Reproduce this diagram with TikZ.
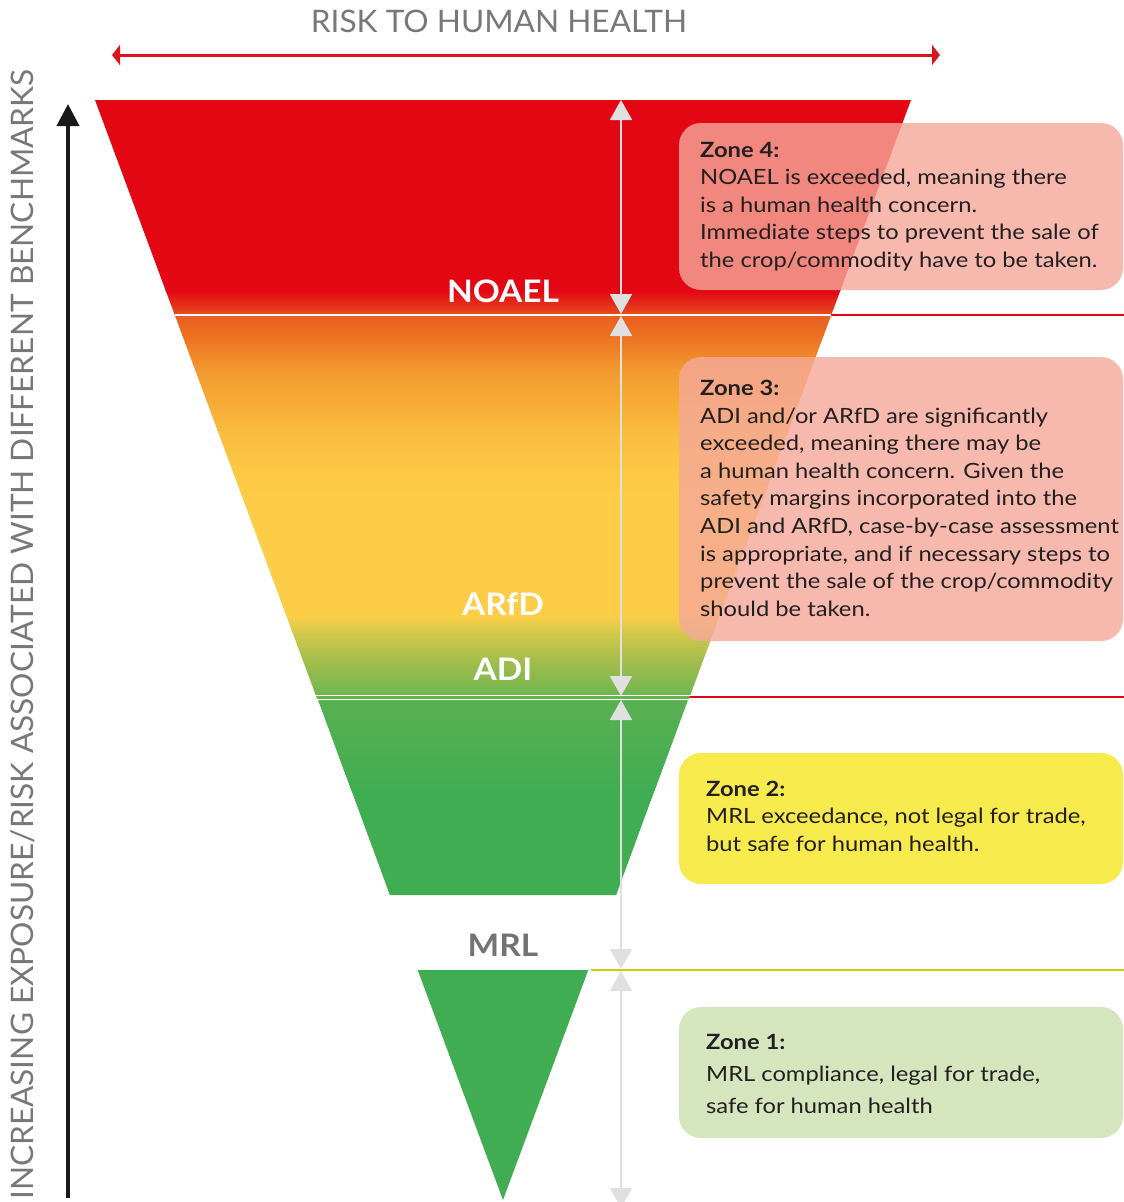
\documentclass[tikz,border=0pt]{standalone}
\usepackage{fontspec}
\setmainfont{Lato}
\newfontfamily\zonefont[FakeStretch=1.13]{Lato}
\newfontfamily\benchfont[FakeStretch=1.08]{Lato}
\newfontfamily\axisfont[FakeStretch=1.02]{Lato}
\usetikzlibrary{arrows.meta}
\definecolor{fred}{RGB}{227,6,19}
\definecolor{axisred}{RGB}{217,22,31}
\definecolor{gA}{RGB}{232,79,30}
\definecolor{gB}{RGB}{234,94,34}
\definecolor{gC}{RGB}{236,112,32}
\definecolor{gD}{RGB}{242,154,48}
\definecolor{gE}{RGB}{246,170,52}
\definecolor{gF}{RGB}{249,187,62}
\definecolor{gG}{RGB}{252,200,69}
\definecolor{gH}{RGB}{254,205,71}
\definecolor{gI}{RGB}{216,201,74}
\definecolor{gJ}{RGB}{164,189,76}
\definecolor{gK}{RGB}{119,183,79}
\definecolor{gL}{RGB}{93,179,80}
\definecolor{fgreen}{RGB}{65,173,82}
\definecolor{fgreenlt}{RGB}{88,177,80}
\definecolor{tickgray}{RGB}{224,224,224}
\definecolor{labgray}{RGB}{115,115,115}
\definecolor{axgray}{RGB}{120,120,120}
\definecolor{mrlline}{RGB}{200,210,0}
\definecolor{salmon}{RGB}{245,168,154}
\definecolor{zyellow}{RGB}{247,234,76}
\definecolor{zgreen}{RGB}{213,229,189}
\definecolor{ztext}{RGB}{35,31,32}
\tikzset{
  zonebox/.style={rounded corners=22pt},
  zonetext/.style={anchor=north west, inner sep=0pt, align=left, text=ztext, font=\zonefont\fontsize{21}{27.6}\selectfont},
  benchlabel/.style={anchor=base, inner sep=0pt, font=\benchfont\bfseries\fontsize{31}{31}\selectfont},
  gapline/.style={draw=white, line width=1.4pt},
  gtick/.style={draw=tickgray, line width=2pt, {Triangle[width=22pt,length=20pt,fill=tickgray]}-{Triangle[width=22pt,length=20pt,fill=tickgray]}},
}
\begin{document}
\begin{tikzpicture}[x=1pt,y=-1pt]
\useasboundingbox (0,0) rectangle (1124,1202);

% horizontal threshold lines (drawn first, as thin filled bands)
\fill[fred] (829,314) rectangle (1124,316);
\fill[fred] (688,696) rectangle (1124,698);
\fill[mrlline] (591,969) rectangle (1124,971);

% title and horizontal arrow
\node[anchor=base, inner sep=0pt, text=axgray, font=\axisfont\fontsize{31}{31}\selectfont] (title) at (499,32.3) {RISK TO HUMAN HEALTH};
\coordinate (hl) at (112,55);
\coordinate (hr) at (940,55);
\draw[draw=axisred, line width=3pt, {Triangle[width=20pt,length=8pt,fill=axisred]}-{Triangle[width=20pt,length=8pt,fill=axisred]}] (hl) -- (hr);

% vertical axis
\coordinate (vb) at (68,1198);
\coordinate (vt) at (68,104);
\draw[draw=black!90, line width=4pt, -{Triangle[width=22pt,length=22pt]}] (vb) -- (vt);
\node[anchor=base west, rotate=90, inner sep=0pt, text=axgray, font=\axisfont\fontsize{31}{31}\selectfont] (vlabel) at (33.3,1200) {INCREASING EXPOSURE/RISK ASSOCIATED WITH DIFFERENT BENCHMARKS};

% upper funnel with gradient
\begin{scope}
\clip (95,100) -- (911,100) -- (688.45,700) -- (317.55,700) -- cycle;
\fill[fred] (90,99) rectangle (920,291);
\shade[top color=fred, bottom color=gA] (90,290.5) rectangle (920,315.5);
\shade[top color=gB, bottom color=gC] (90,315) rectangle (920,335.5);
\shade[top color=gC, bottom color=gD] (90,335) rectangle (920,370.5);
\shade[top color=gD, bottom color=gE] (90,370) rectangle (920,400.5);
\shade[top color=gE, bottom color=gF] (90,400) rectangle (920,430.5);
\shade[top color=gF, bottom color=gG] (90,430) rectangle (920,470.5);
\shade[top color=gG, bottom color=gH] (90,470) rectangle (920,500.5);
\fill[gH] (90,500) rectangle (920,615.5);
\shade[top color=gH, bottom color=gI] (90,615) rectangle (920,630.5);
\shade[top color=gI, bottom color=gJ] (90,630) rectangle (920,660.5);
\shade[top color=gJ, bottom color=gK] (90,660) rectangle (920,690.5);
\shade[top color=gK, bottom color=gL] (90,690) rectangle (920,701);
\end{scope}
\draw[gapline] (174.75,315) -- (831.25,315);
\draw[gapline] (315.9,695.6) -- (690.1,695.6);
\draw[gapline] (317.4,699.6) -- (688.6,699.6);

% zone 2 trapezoid
\begin{scope}
\clip (318.3,700.3) -- (687.7,700.3) -- (616.13,895) -- (389.87,895) -- cycle;
\fill[fgreen] (300,700) rectangle (700,896);
\shade[top color=fgreenlt, bottom color=fgreen] (300,700) rectangle (700,790);
\end{scope}
% zone 1 triangle
\fill[fgreen] (417.69,970) -- (588.31,970) -- (503,1200) -- cycle;

% gray double arrows
\coordinate (t0) at (621,100);
\coordinate (t1a) at (621,314);
\coordinate (t1b) at (621,316);
\coordinate (t2a) at (621,696);
\coordinate (t2b) at (621,700);
\coordinate (t3a) at (621,969);
\coordinate (t3b) at (621,971);
\coordinate (t4) at (621,1208);
\draw[gtick] (t0) -- (t1a);
\draw[gtick] (t1b) -- (t2a);
\draw[gtick] (t2b) -- (t3a);
\draw[gtick] (t3b) -- (t4);

% benchmark labels
\node[benchlabel, text=white] (noael) at (503,302.5) {NOAEL};
\node[benchlabel, text=white] (arfd) at (503,615) {ARfD};
\node[benchlabel, text=white] (adi) at (503,680.7) {ADI};
\node[benchlabel, text=labgray] (mrl) at (503,956.7) {MRL};

% zone boxes
\fill[zonebox, salmon, fill opacity=0.8] (679,123) rectangle (1123,290);
\fill[zonebox, salmon, fill opacity=0.8] (679,357) rectangle (1123,641);
\fill[zonebox, zyellow] (679,753) rectangle (1123,884);
\fill[zonebox, zgreen] (679,1007) rectangle (1123,1138);

\node[zonetext] (z4) at (700,141.7) {\textbf{Zone 4:}\\NOAEL is exceeded, meaning there\\is a human health concern.\\Immediate steps to prevent the sale of\\the crop/commodity have to be taken.};
\node[zonetext] (z3) at (700,380) {\textbf{Zone 3:}\\ADI and/or ARfD are significantly\\exceeded, meaning there may be\\a human health concern. Given the\\safety margins incorporated into the\\ADI and ARfD, case-by-case assessment\\is appropriate, and if necessary steps to\\prevent the sale of the crop/commodity\\should be taken.};
\node[zonetext] (z2) at (706,780.5) {\textbf{Zone 2:}\\MRL exceedance, not legal for trade,\\but safe for human health.};
\node[zonetext, font=\zonefont\fontsize{21}{32}\selectfont] (z1) at (706,1034.5) {\textbf{Zone 1:}\\MRL compliance, legal for trade,\\safe for human health};
\end{tikzpicture}
\end{document}
